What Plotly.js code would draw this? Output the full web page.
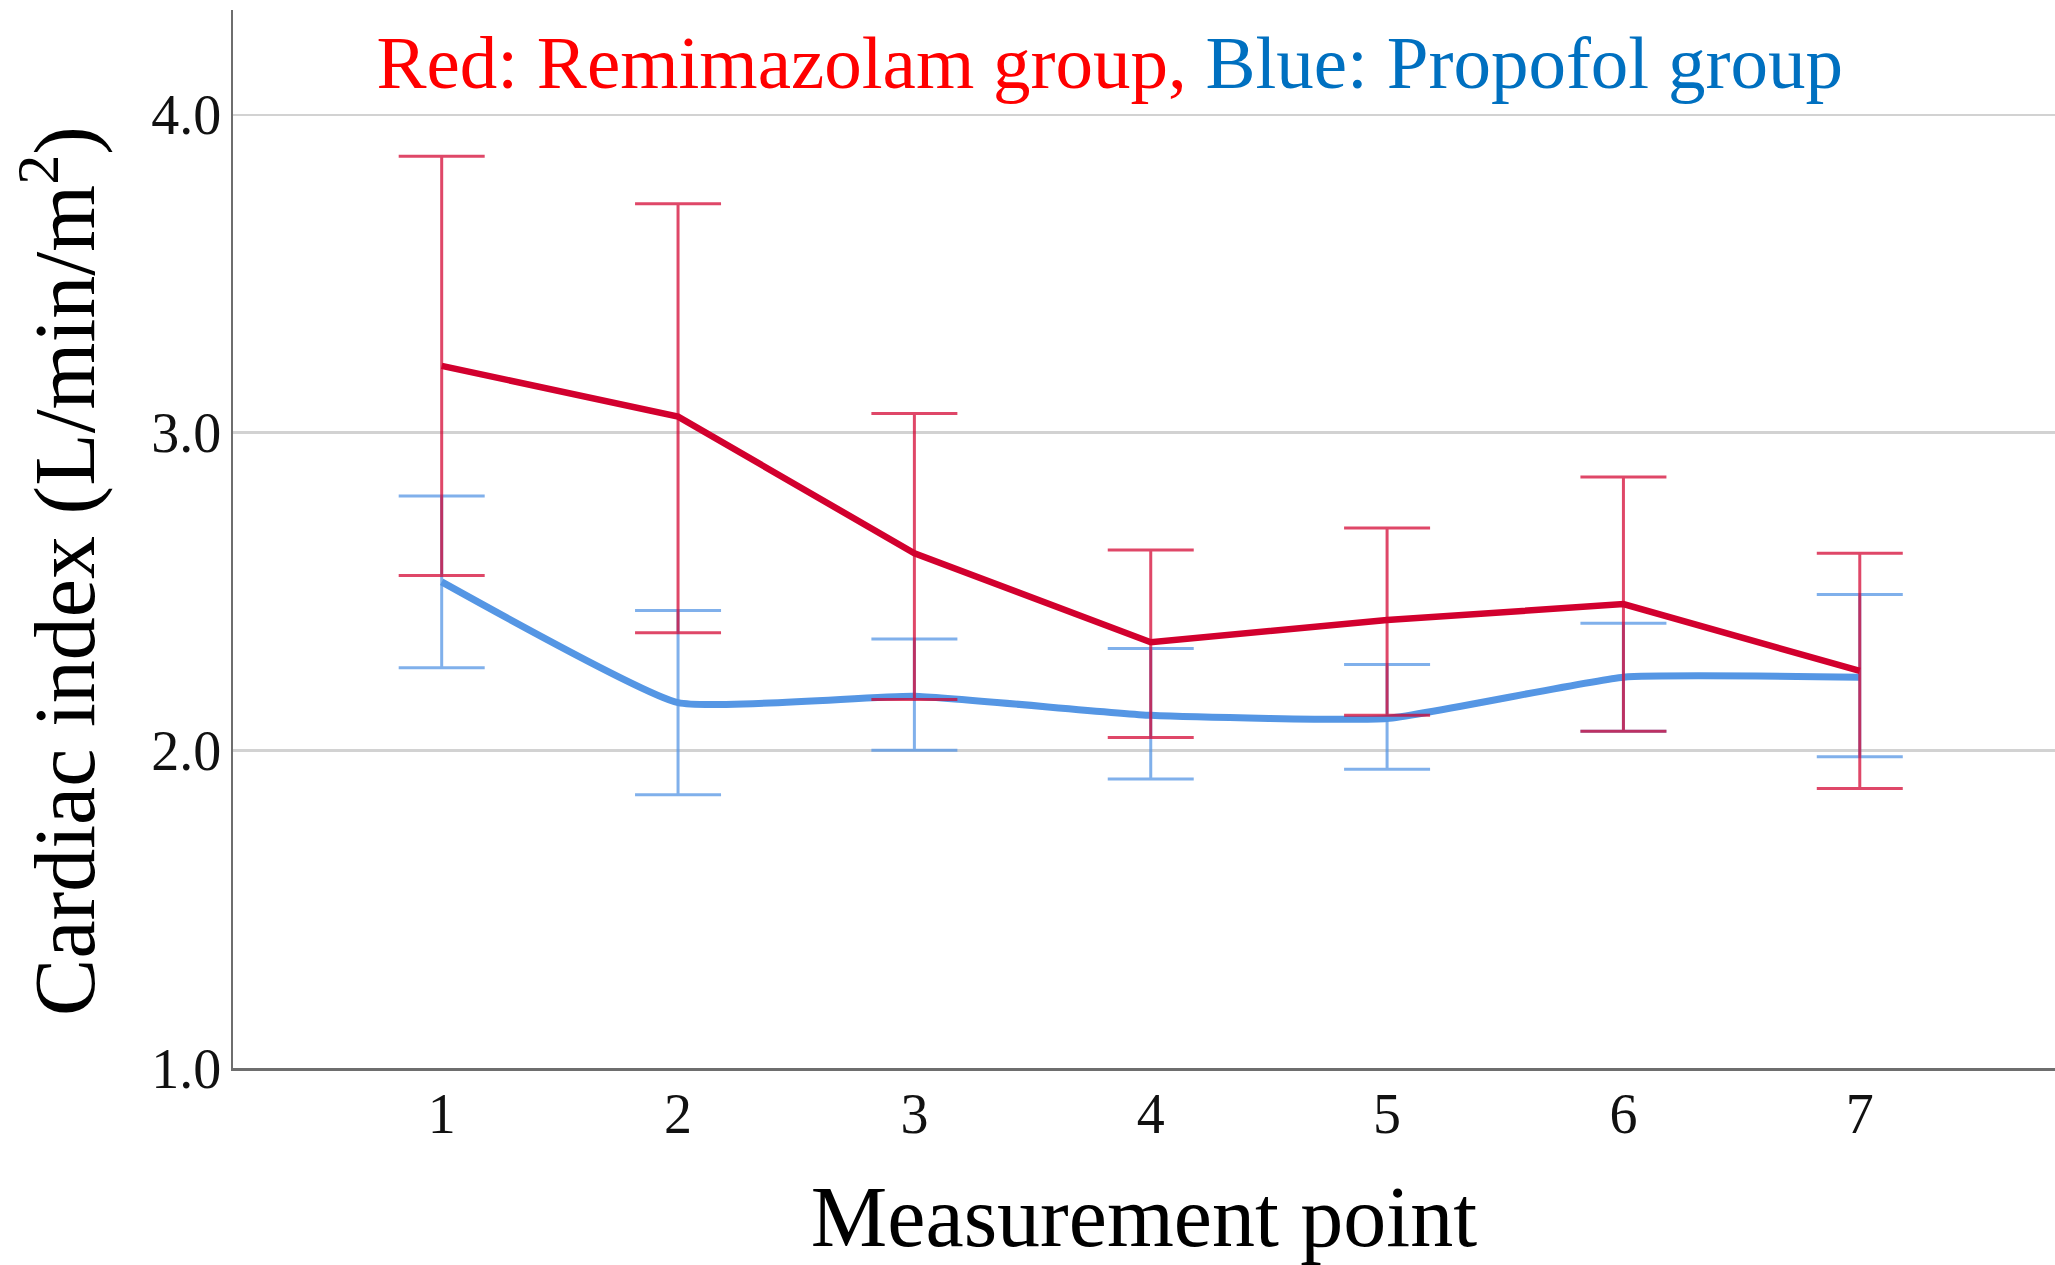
<!DOCTYPE html>
<html>
<head>
<meta charset="utf-8">
<script src="https://cdn.plot.ly/plotly-3.0.1.min.js"></script>
<style>html,body{margin:0;padding:0;background:#fff;}#chart{width:2055px;height:1265px;}</style>
</head>
<body>
<div id="chart"></div>
<script>
var points = [1, 2, 3, 4, 5, 6, 7];
var tickLabels = ['1', '2', '3', '4', '5', '6', '7'];
var remiMean  = [3.21, 3.05, 2.62, 2.34, 2.41, 2.46, 2.25];
var remiUpper = [3.87, 3.72, 3.06, 2.63, 2.70, 2.86, 2.62];
var remiLower = [2.55, 2.37, 2.16, 2.04, 2.11, 2.06, 1.88];
var propMean  = [2.53, 2.15, 2.17, 2.11, 2.10, 2.23, 2.23];
var propUpper = [2.80, 2.44, 2.35, 2.32, 2.27, 2.40, 2.49];
var propLower = [2.26, 1.86, 2.00, 1.91, 1.94, 2.06, 1.98];
var yTicks = [1.0, 2.0, 3.0, 4.0];
var yTickLabels = ['1.0', '2.0', '3.0', '4.0'];

function diff(a, b) { return a.map(function (v, i) { return +(v - b[i]).toFixed(3); }); }

var font = 'Liberation Serif, Times New Roman, serif';

var propTrace = {
  x: points, y: propMean, type: 'scatter', mode: 'lines', name: 'Propofol group',
  line: {color: '#5596E4', width: 7, shape: 'spline', smoothing: 0.4},
  error_y: {type: 'data', symmetric: false, array: diff(propUpper, propMean), arrayminus: diff(propMean, propLower),
            color: 'rgba(85,150,228,0.75)', thickness: 3, width: 43},
  hoverinfo: 'x+y'
};
var remiTrace = {
  x: points, y: remiMean, type: 'scatter', mode: 'lines', name: 'Remimazolam group',
  line: {color: '#D2002E', width: 6.5},
  error_y: {type: 'data', symmetric: false, array: diff(remiUpper, remiMean), arrayminus: diff(remiMean, remiLower),
            color: 'rgba(210,0,46,0.72)', thickness: 3, width: 43},
  hoverinfo: 'x+y'
};

var layout = {
  width: 2055, height: 1265,
  margin: {l: 233, r: 0, t: 10, b: 197},
  paper_bgcolor: '#ffffff', plot_bgcolor: '#ffffff',
  showlegend: false,
  font: {family: font, color: '#000000'},
  title: {
    text: '<span style="color:#FF0000">Red: Remimazolam group,</span> <span style="color:#0070C0">Blue: Propofol group</span>',
    font: {family: font, size: 75},
    xref: 'container', yref: 'container',
    x: 0.540, xanchor: 'center',
    y: 0.951, yanchor: 'middle'
  },
  xaxis: {
    range: [0.117, 7.826],
    tickmode: 'array', tickvals: points, ticktext: tickLabels,
    ticks: '', showgrid: false, zeroline: false,
    showline: true, linecolor: '#6e6e6e', linewidth: 2.5,
    tickfont: {family: font, size: 56, color: '#111'},
    ticklabelstandoff: -5,
    title: {text: 'Measurement point', font: {family: font, size: 86, color: '#000'}, standoff: 52},
    automargin: false
  },
  yaxis: {
    range: [1.0, 4.33],
    tickmode: 'array', tickvals: yTicks, ticktext: yTickLabels,
    ticks: '', showgrid: true, gridcolor: '#d2d2d2', gridwidth: 2.5, zeroline: false,
    showline: true, linecolor: '#6e6e6e', linewidth: 2.5,
    tickfont: {family: font, size: 56, color: '#111'},
    ticklabelstandoff: -2,
    automargin: false
  },
  annotations: [{
    text: 'Cardiac index (L/min/m<sup>2</sup>)',
    xref: 'paper', yref: 'paper', x: -0.0955, y: 0.4698,
    xanchor: 'center', yanchor: 'middle', textangle: -90, showarrow: false,
    font: {family: font, size: 86, color: '#000'}
  }]
};

Plotly.newPlot('chart', [propTrace, remiTrace], layout, {displayModeBar: false, staticPlot: true});
</script>
</body>
</html>
